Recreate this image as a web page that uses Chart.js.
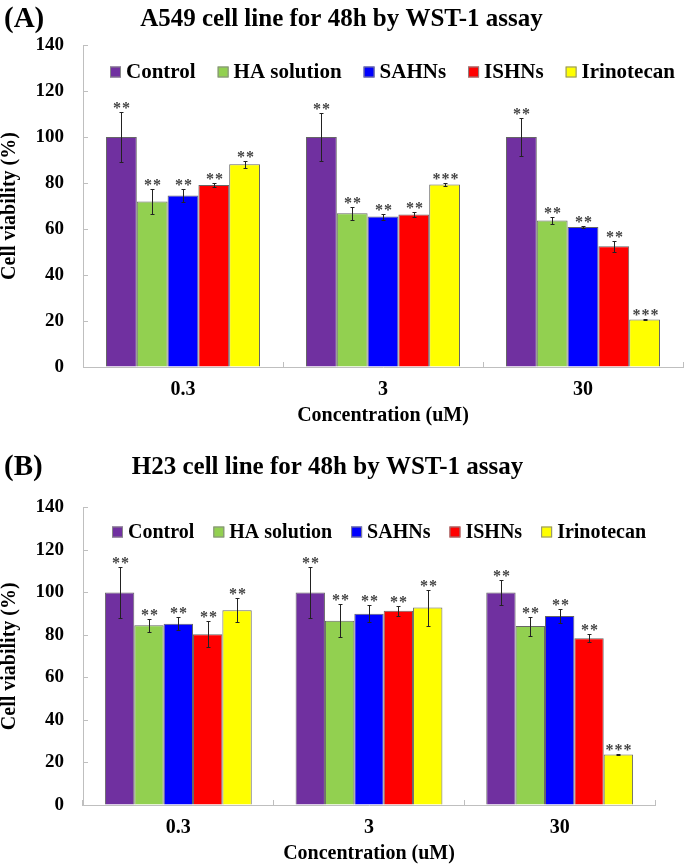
<!DOCTYPE html>
<html>
<head>
<meta charset="utf-8">
<script src="https://cdn.jsdelivr.net/npm/chart.js@4"></script>
<style>
  html, body { margin: 0; padding: 0; background: #fff; }
  #wrap { position: relative; width: 685px; height: 864px; }
  .box { position: absolute; left: 0; width: 685px; }
  .tag { position: absolute; left: 4px; font: bold 29px "Liberation Serif", serif; line-height: 30px; color: #000; }
</style>
</head>
<body>
<div id="wrap">
  <div class="box" style="top:0;height:435px"><canvas id="chartA" width="685" height="435"></canvas></div>
  <div class="box" style="top:435px;height:429px"><canvas id="chartB" width="685" height="429"></canvas></div>
  <div class="tag" style="top:2px">(A)</div>
  <div class="tag" style="top:450px">(B)</div>
</div>
<script>
var SERIF = "'Liberation Serif', 'Times New Roman', serif";

var CONC = ["0.3", "3", "30"];
var SERIES = ["Control", "HA solution", "SAHNs", "ISHNs", "Irinotecan"];
var COLORS = ["#7030a0", "#92d050", "#0000ff", "#ff0000", "#ffff00"];
var Y_TICKS = [0, 20, 40, 60, 80, 100, 120, 140];

// (A) A549 — média e desvio por concentração
var a549Control = [100, 100, 100];
var a549HA      = [72.0, 66.9, 63.7];
var a549SAHN    = [74.6, 65.4, 60.9];
var a549ISHN    = [79.1, 66.3, 52.5];
var a549Irino   = [88.2, 79.4, 20.6];
var a549ControlSD = [11.0, 10.6, 8.4];
var a549HASD      = [5.4, 2.8, 1.5];
var a549SAHNSD    = [2.7, 1.3, 0.4];
var a549ISHNSD    = [1.0, 1.2, 2.4];
var a549IrinoSD   = [1.5, 0.6, 0.3];
var a549Stars = [["**", "**", "**"], ["**", "**", "**"], ["**", "**", "**"], ["**", "**", "**"], ["**", "***", "***"]];

// (B) H23
var h23Control = [100, 100, 100];
var h23HA      = [84.6, 86.7, 84.2];
var h23SAHN    = [85.3, 90.0, 88.9];
var h23ISHN    = [80.4, 91.4, 78.5];
var h23Irino   = [91.7, 92.9, 23.8];
var h23ControlSD = [11.8, 12.2, 5.8];
var h23HASD      = [3.1, 7.8, 4.5];
var h23SAHNSD    = [3.0, 3.9, 3.4];
var h23ISHNSD    = [6.0, 2.3, 1.9];
var h23IrinoSD   = [5.5, 8.5, 0.3];
var h23Stars = [["**", "**", "**"], ["**", "**", "**"], ["**", "**", "**"], ["**", "**", "**"], ["**", "**", "***"]];

// barras de erro + asteriscos acima de cada barra
var errorBars = {
  id: "errorBars",
  afterDatasetsDraw: function (chart) {
    var ctx = chart.ctx, ys = chart.scales.y;
    chart.data.datasets.forEach(function (ds, i) {
      var meta = chart.getDatasetMeta(i);
      meta.data.forEach(function (bar, j) {
        var v = ds.data[j], e = ds.sd[j];
        var x = Math.round(bar.x) + 0.5;
        var top = Math.round(ys.getPixelForValue(v + e)) + 0.5;
        var bot = Math.round(ys.getPixelForValue(v - e)) + 0.5;
        ctx.save();
        ctx.strokeStyle = "#222";
        ctx.lineWidth = 1;
        ctx.beginPath();
        ctx.moveTo(x, top); ctx.lineTo(x, bot);
        ctx.moveTo(x - 2, top); ctx.lineTo(x + 2, top);
        ctx.moveTo(x - 2, bot); ctx.lineTo(x + 2, bot);
        ctx.stroke();
        ctx.fillStyle = "#444";
        ctx.font = "bold 16px " + SERIF;
        if ("letterSpacing" in ctx) ctx.letterSpacing = "1px";
        ctx.textAlign = "center";
        ctx.textBaseline = "alphabetic";
        ctx.fillText(ds.stars[j], x + 0.5, top);
        ctx.restore();
      });
    });
  }
};

// legenda em linha dentro da área do gráfico (a do Chart.js em "chartArea" fica em coluna)
var insideLegend = {
  id: "insideLegend",
  afterDatasetsDraw: function (chart, args, opts) {
    var ctx = chart.ctx;
    var x = opts.x;
    ctx.save();
    ctx.font = "bold " + opts.size + "px " + SERIF;
    ctx.textBaseline = "middle";
    ctx.textAlign = "left";
    chart.data.datasets.forEach(function (ds) {
      ctx.fillStyle = ds.backgroundColor;
      ctx.fillRect(x, opts.y - 5.5, 11, 11);
      ctx.strokeStyle = "#888";
      ctx.lineWidth = 1;
      ctx.strokeRect(x + 0.5, opts.y - 5, 10, 10);
      ctx.fillStyle = "#000";
      ctx.fillText(ds.label, x + 16, opts.y + 1);
      x += 16 + ctx.measureText(ds.label).width + opts.gap;
    });
    ctx.restore();
  }
};

function makeDatasets(values, sds, stars) {
  return SERIES.map(function (name, i) {
    return {
      label: name,
      data: values[i],
      sd: sds[i],
      stars: stars[i],
      backgroundColor: COLORS[i],
      borderColor: "#666",
      borderWidth: 1,
      categoryPercentage: 0.77,
      barPercentage: 1
    };
  });
}

function font(size, lh) {
  return { family: SERIF, size: size, weight: "bold", lineHeight: lh || 1.2 };
}

function makeChart(id, cfg) {
  return new Chart(document.getElementById(id), {
    type: "bar",
    data: { labels: CONC, datasets: makeDatasets(cfg.values, cfg.sds, cfg.stars) },
    options: {
      responsive: false,
      animation: false,
      layout: { padding: { left: 0, right: cfg.padRight, top: 0, bottom: 0 } },
      scales: {
        x: {
          // tickLength negativo: marcas para dentro, como no original
          ticks: { color: "#000", font: font(20, 1), padding: 18 },
          grid: { drawOnChartArea: false, tickLength: -5, color: "#bfbfbf" },
          border: { color: "#bfbfbf" },
          title: { display: true, text: "Concentration (uM)", color: "#000", font: font(20, 1), padding: { top: 0, bottom: cfg.xTitlePad } },
          afterFit: function (s) { s.height = cfg.xHeight; }
        },
        y: {
          min: 0, max: 140,
          afterBuildTicks: function (s) { s.ticks = Y_TICKS.map(function (v) { return { value: v }; }); },
          ticks: { color: "#000", font: font(19), padding: 24 },
          grid: { drawOnChartArea: false, tickLength: -5, color: "#bfbfbf" },
          border: { color: "#bfbfbf" },
          title: { display: true, text: "Cell viability (%)", color: "#000", font: font(20, 1), padding: { top: 0, bottom: 0 } },
          afterFit: function (s) { s.width = 83; }
        }
      },
      plugins: {
        title: {
          display: true, text: cfg.title, color: "#000", font: font(25),
          padding: { top: cfg.titleTop, bottom: cfg.titleBottom }
        },
        legend: { display: false },
        insideLegend: cfg.legend,
        tooltip: { enabled: false }
      }
    },
    plugins: [errorBars, insideLegend]
  });
}

makeChart("chartA", {
  title: "A549 cell line for 48h by WST-1 assay",
  values: [a549Control, a549HA, a549SAHN, a549ISHN, a549Irino],
  sds: [a549ControlSD, a549HASD, a549SAHNSD, a549ISHNSD, a549IrinoSD],
  stars: a549Stars,
  padRight: 2, xHeight: 68, xTitlePad: 9,
  titleTop: 5, titleBottom: 10,
  legend: { x: 110, y: 72, size: 21, gap: 22 }
});

makeChart("chartB", {
  title: "H23 cell line for 48h by WST-1 assay",
  values: [h23Control, h23HA, h23SAHN, h23ISHN, h23Irino],
  sds: [h23ControlSD, h23HASD, h23SAHNSD, h23ISHNSD, h23IrinoSD],
  stars: h23Stars,
  padRight: 30, xHeight: 59, xTitlePad: 0,
  titleTop: 18, titleBottom: 24.5,
  legend: { x: 112, y: 97, size: 20, gap: 19 }
});
</script>
</body>
</html>
